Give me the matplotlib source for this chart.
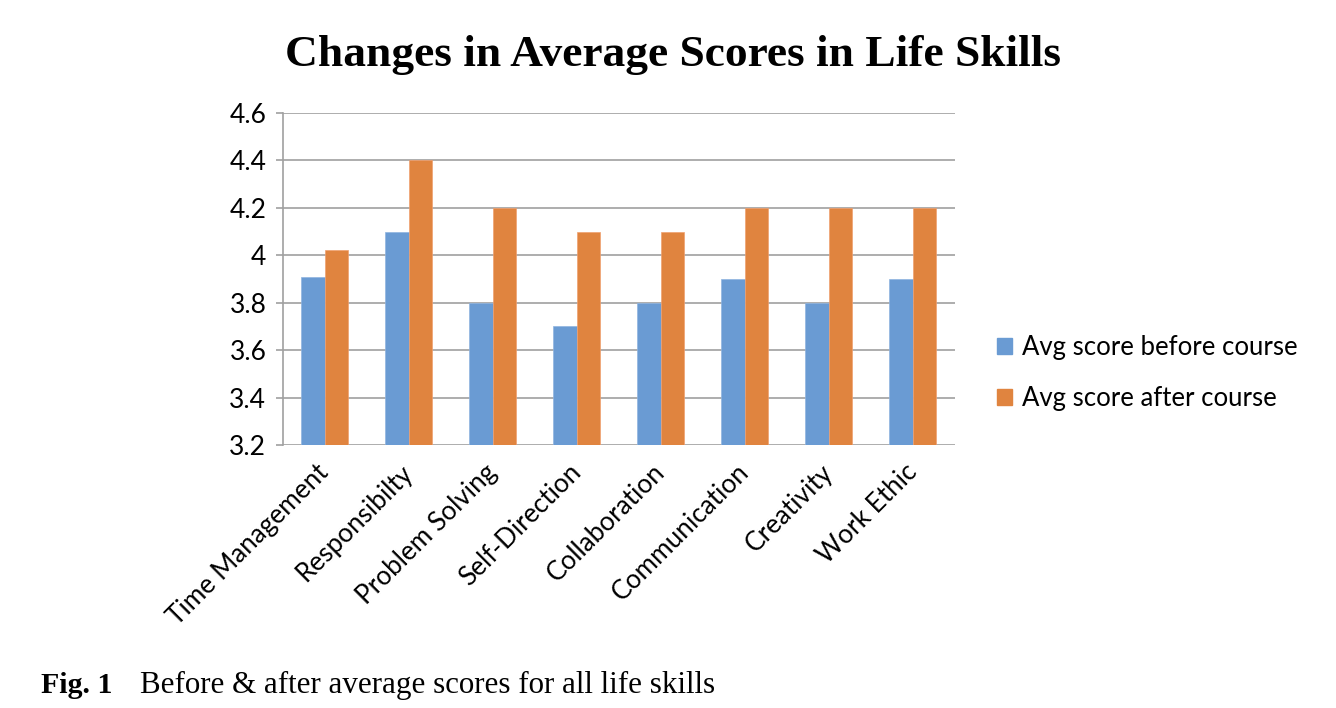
import numpy as np
import matplotlib.pyplot as plt
from matplotlib.patches import Patch

skills = ["Time Management", "Responsibilty", "Problem Solving", "Self-Direction",
          "Collaboration", "Communication", "Creativity", "Work Ethic"]
before = [3.91, 4.1, 3.8, 3.7, 3.8, 3.9, 3.8, 3.9]
after = [4.02, 4.4, 4.2, 4.1, 4.1, 4.2, 4.2, 4.2]
yticks = [3.2, 3.4, 3.6, 3.8, 4.0, 4.2, 4.4, 4.6]
ytick_labels = ["3.2", "3.4", "3.6", "3.8", "4", "4.2", "4.4", "4.6"]

blue = "#6a9bd3"
orange = "#e0843f"

fig = plt.figure(figsize=(13.36, 7.08), dpi=100)
ax = fig.add_axes([0.2118, 0.3715, 0.503, 0.469])

x = np.arange(len(skills))
w = 0.28
ax.bar(x - w / 2, before, w, color=blue, edgecolor="#8fb4e0", linewidth=0.5, zorder=3)
ax.bar(x + w / 2, after, w, color=orange, edgecolor="#f0a070", linewidth=0.5, zorder=3)

ax.set_xlim(-0.5, len(skills) - 0.5)
ax.set_ylim(3.2, 4.6)
ax.set_yticks(yticks)
ax.set_yticklabels(ytick_labels, fontsize=19, family="Lato")
ax.set_xticks(x)
ax.set_xticklabels(skills, rotation=45, ha="right", va="center", rotation_mode="anchor",
                   fontsize=18.8, family="Lato")
ax.tick_params(axis="x", length=0, pad=17)
ax.tick_params(axis="y", length=5, color="#a0a0a0", width=1.2, pad=7)

ax.grid(axis="y", color="#a0a0a0", linewidth=1.2, zorder=0)
for side in ["top", "right", "bottom"]:
    ax.spines[side].set_visible(False)
ax.spines["left"].set_color("#a0a0a0")
ax.spines["left"].set_linewidth(1.2)

handles = [Patch(color=blue, label="Avg score before course"),
           Patch(color=orange, label="Avg score after course")]
fig.legend(handles=handles, loc="center left", bbox_to_anchor=(0.729, 0.473),
           frameon=False, prop={"family": "Lato", "size": 18.5},
           handlelength=0.58, handleheight=0.58, labelspacing=1.0, handletextpad=0.4)

fig.text(0.504, 0.922, "Changes in Average Scores in Life Skills", ha="center", va="center",
         fontsize=32.7, fontweight="bold", family="Liberation Serif")
fig.text(0.031, 0.032, "Fig. 1", ha="left", va="center",
         fontsize=21.5, fontweight="bold", family="Liberation Serif")
fig.text(0.1045, 0.032, "Before & after average scores for all life skills", ha="left",
         va="center", fontsize=22.3, family="Liberation Serif")

fig.savefig("out.png", dpi=100)
